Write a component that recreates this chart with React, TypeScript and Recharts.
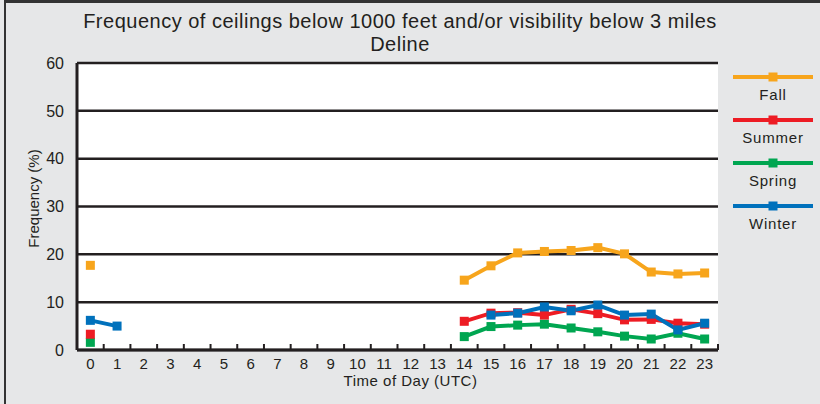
import React from 'react';
import {
  LineChart,
  Line,
  XAxis,
  YAxis,
  CartesianGrid,
  Legend,
} from 'recharts';

const hours = [0, 1, 2, 3, 4, 5, 6, 7, 8, 9, 10, 11, 12, 13, 14, 15, 16, 17, 18, 19, 20, 21, 22, 23];
const fall = [17.7, null, null, null, null, null, null, null, null, null, null, null, null, null, 14.6, 17.6, 20.3, 20.6, 20.8, 21.4, 20.1, 16.3, 15.9, 16.1];
const summer = [3.3, null, null, null, null, null, null, null, null, null, null, null, null, null, 6.0, 7.7, 7.8, 7.3, 8.5, 7.6, 6.3, 6.4, 5.6, 5.4];
const spring = [1.6, null, null, null, null, null, null, null, null, null, null, null, null, null, 2.8, 4.9, 5.2, 5.4, 4.6, 3.8, 2.9, 2.3, 3.5, 2.3];
const winter = [6.2, 5.0, null, null, null, null, null, null, null, null, null, null, null, null, null, 7.3, 7.7, 9.0, 8.2, 9.4, 7.3, 7.5, 4.2, 5.6];

const yTicks = [0, 10, 20, 30, 40, 50, 60];
const legendOrder = ['Fall', 'Summer', 'Spring', 'Winter'];

const data = hours.map((h, i) => ({
  hour: h,
  Fall: fall[i],
  Summer: summer[i],
  Spring: spring[i],
  Winter: winter[i],
}));

const colors: Record<string, string> = {
  Fall: '#f7a51c',
  Summer: '#ed1c24',
  Spring: '#00a651',
  Winter: '#0071bc',
};

const ink = '#231f20';
const font = '"Liberation Sans", Arial, sans-serif';

const squareDot = (color: string) => (props: any) => {
  const { cx, cy, key, value } = props;
  if (cy == null || value == null) return <g key={key} />;
  return <rect key={key} x={cx - 4.5} y={cy - 4.5} width={9} height={9} fill={color} />;
};

// hour label under the band centre, inward tick mark at the band's right edge
const hourTick = (props: any) => {
  const { x, y, payload, index, width } = props;
  const half = width / hours.length / 2;
  const axisY = props.y - 8;
  return (
    <g key={index}>
      <line x1={x + half} x2={x + half} y1={axisY} y2={axisY - 6} stroke={ink} strokeWidth={2} />
      <text
        x={x}
        y={y}
        dy="0.71em"
        textAnchor="middle"
        fill={ink}
        fontSize={15}
        fontFamily={font}
      >
        {payload.value}
      </text>
    </g>
  );
};

const renderLegend = (props: any) => {
  const items = [...(props.payload || [])].sort(
    (a: any, b: any) => legendOrder.indexOf(a.value) - legendOrder.indexOf(b.value)
  );
  return (
    <div>
      {items.map((it: any) => (
        <div key={it.value} style={{ height: 43, textAlign: 'center', width: 84 }}>
          <svg width={84} height={14} style={{ display: 'block' }}>
            <line x1={2} x2={82} y1={7} y2={7} stroke={it.color} strokeWidth={4} />
            <rect x={37.5} y={2.5} width={9} height={9} fill={it.color} />
          </svg>
          <div style={{ fontSize: 15, letterSpacing: 0.8, color: ink, lineHeight: '17px', marginTop: 2 }}>
            {it.value}
          </div>
        </div>
      ))}
    </div>
  );
};

const yLabel = (props: any) => {
  const vb = props.viewBox || { x: 0, y: 63, width: 77, height: 287 };
  const cy = vb.y + vb.height / 2 - 8;
  return (
    <text
      x={33}
      y={cy}
      transform={`rotate(-90, 33, ${cy})`}
      textAnchor="middle"
      dominantBaseline="central"
      fill={ink}
      fontSize={15}
      fontFamily={font}
    >
      Frequency (%)
    </text>
  );
};

export default function App() {
  return (
    <div
      style={{
        position: 'relative',
        width: 820,
        height: 404,
        background: '#e6e7e8',
        overflow: 'hidden',
        fontFamily: font,
      }}
    >
      <style>{'body{margin:0}'}</style>
      <div
        style={{
          position: 'absolute',
          left: 4,
          top: 0,
          width: 900,
          height: 500,
          borderTop: `3px solid #333`,
          borderLeft: `2px solid #333`,
        }}
      />
      <div
        style={{
          position: 'absolute',
          left: 0,
          top: 10,
          width: 800,
          textAlign: 'center',
          fontSize: 20,
          letterSpacing: 0.5,
          lineHeight: '23px',
          color: ink,
        }}
      >
        Frequency of ceilings below 1000 feet and/or visibility below 3 miles
        <br />
        Deline
      </div>
      <div style={{ position: 'absolute', left: 0, top: 0 }}>
        <LineChart
          width={820}
          height={404}
          data={data}
          margin={{ top: 63, right: 102, bottom: 24, left: 0 }}
        >
          <CartesianGrid
            vertical={false}
            stroke={ink}
            strokeWidth={2.5}
            fill="#ffffff"
            fillOpacity={1}
            strokeOpacity={1}
          />
          <XAxis
            dataKey="hour"
            type="number"
            domain={[-0.5, 23.5]}
            ticks={hours}
            interval={0}
            tickLine={false}
            tickSize={6}
            tickMargin={2}
            axisLine={{ stroke: ink, strokeWidth: 3 }}
            tick={hourTick}
            height={30}
            label={{
              value: 'Time of Day (UTC)',
              position: 'insideBottom',
              offset: -6,
              fill: ink,
              fontSize: 15,
              letterSpacing: 0.5,
              fontFamily: font,
              dx: 13,
            }}
          />
          <YAxis
            domain={[0, 60]}
            ticks={yTicks}
            width={77}
            tickLine={false}
            tickMargin={7}
            axisLine={{ stroke: ink, strokeWidth: 3 }}
            tick={{ fill: ink, fontSize: 16, fontFamily: font }}
            label={yLabel}
          />
          <Legend
            layout="horizontal"
            verticalAlign="middle"
            align="center"
            content={renderLegend}
            wrapperStyle={{ position: 'absolute', left: 731, top: 70, width: 84 }}
          />
          {['Spring', 'Fall', 'Summer', 'Winter'].map((k) => (
            <Line
              key={k}
              dataKey={k}
              name={k}
              stroke={colors[k]}
              strokeWidth={4}
              dot={squareDot(colors[k])}
              activeDot={false}
              connectNulls={false}
              isAnimationActive={false}
            />
          ))}
        </LineChart>
      </div>
    </div>
  );
}
